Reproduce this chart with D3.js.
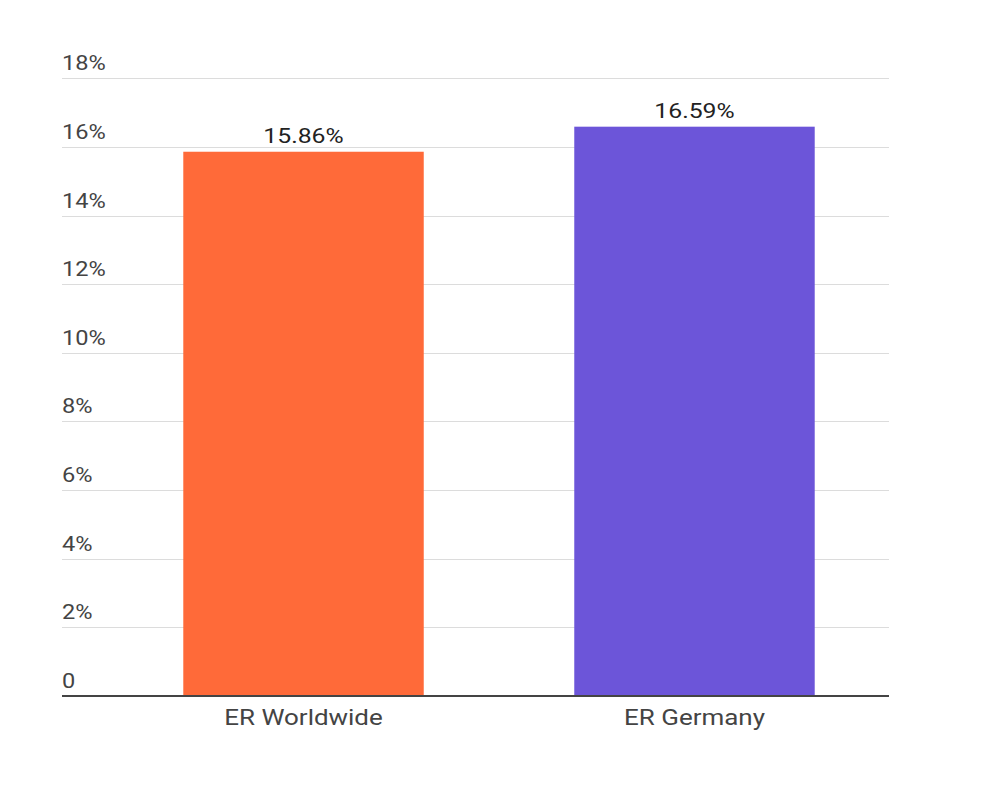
<!DOCTYPE html>
<html>
<head>
<meta charset="utf-8">
<script src="https://cdn.jsdelivr.net/npm/d3@7"></script>
<style>
  body { margin: 0; background: #fff; }
  svg { display: block; font-family: Roboto, "Noto Sans", sans-serif; }
</style>
</head>
<body>
<svg width="1000" height="802"></svg>
<script>
// chart data
const categories = ["ER Worldwide", "ER Germany"];
const values = [15.86, 16.59];
const colors = ["#ff6a39", "#6c55d9"];
const yTicks = [0, 2, 4, 6, 8, 10, 12, 14, 16, 18];

const svg = d3.select("svg");

const plotLeft = 62, plotRight = 889, plotTop = 78.3, plotBottom = 696;
// the source image text is a bit stretched sideways
const stretch = 1.18;

const y = d3.scaleLinear().domain([0, 18]).range([plotBottom, plotTop]);
const x = d3.scaleBand().domain(categories).range([109, 889]).paddingInner(0.385).paddingOuter(0.19);

// gridlines + tick labels
const grid = svg.append("g");
grid.selectAll("line")
  .data(yTicks.filter((d) => d > 0))
  .join("line")
  .attr("x1", plotLeft)
  .attr("x2", plotRight)
  .attr("y1", (d) => Math.round(y(d)) + 0.5)
  .attr("y2", (d) => Math.round(y(d)) + 0.5)
  .attr("stroke", "#dcdcdc")
  .attr("stroke-width", 1);

grid.selectAll("text")
  .data(yTicks)
  .join("text")
  .attr("transform", (d) => `translate(${plotLeft},${y(d) - 8}) scale(${stretch},1)`)
  .attr("font-size", 20)
  .attr("fill", "#444")
  .text((d) => (d === 0 ? "0" : d + "%"));

// bars
svg.append("g")
  .selectAll("rect")
  .data(values)
  .join("rect")
  .attr("x", (d, i) => x(categories[i]))
  .attr("width", x.bandwidth())
  .attr("y", (d) => y(d))
  .attr("height", (d) => plotBottom - y(d))
  .attr("fill", (d, i) => colors[i]);

// value labels
svg.append("g")
  .selectAll("text")
  .data(values)
  .join("text")
  .attr("transform", (d, i) =>
    `translate(${x(categories[i]) + x.bandwidth() / 2},${y(d) - 8.5}) scale(${stretch},1)`)
  .attr("text-anchor", "middle")
  .attr("font-size", 21)
  .attr("fill", "#222")
  .text((d) => d.toFixed(2) + "%");

// baseline
svg.append("line")
  .attr("x1", plotLeft)
  .attr("x2", plotRight)
  .attr("y1", plotBottom)
  .attr("y2", plotBottom)
  .attr("stroke", "#444")
  .attr("stroke-width", 2);

// category labels
svg.append("g")
  .selectAll("text")
  .data(categories)
  .join("text")
  .attr("transform", (d) => `translate(${x(d) + x.bandwidth() / 2},725) scale(${stretch},1)`)
  .attr("text-anchor", "middle")
  .attr("font-size", 22)
  .attr("fill", "#444")
  .text((d) => d);
</script>
</body>
</html>
